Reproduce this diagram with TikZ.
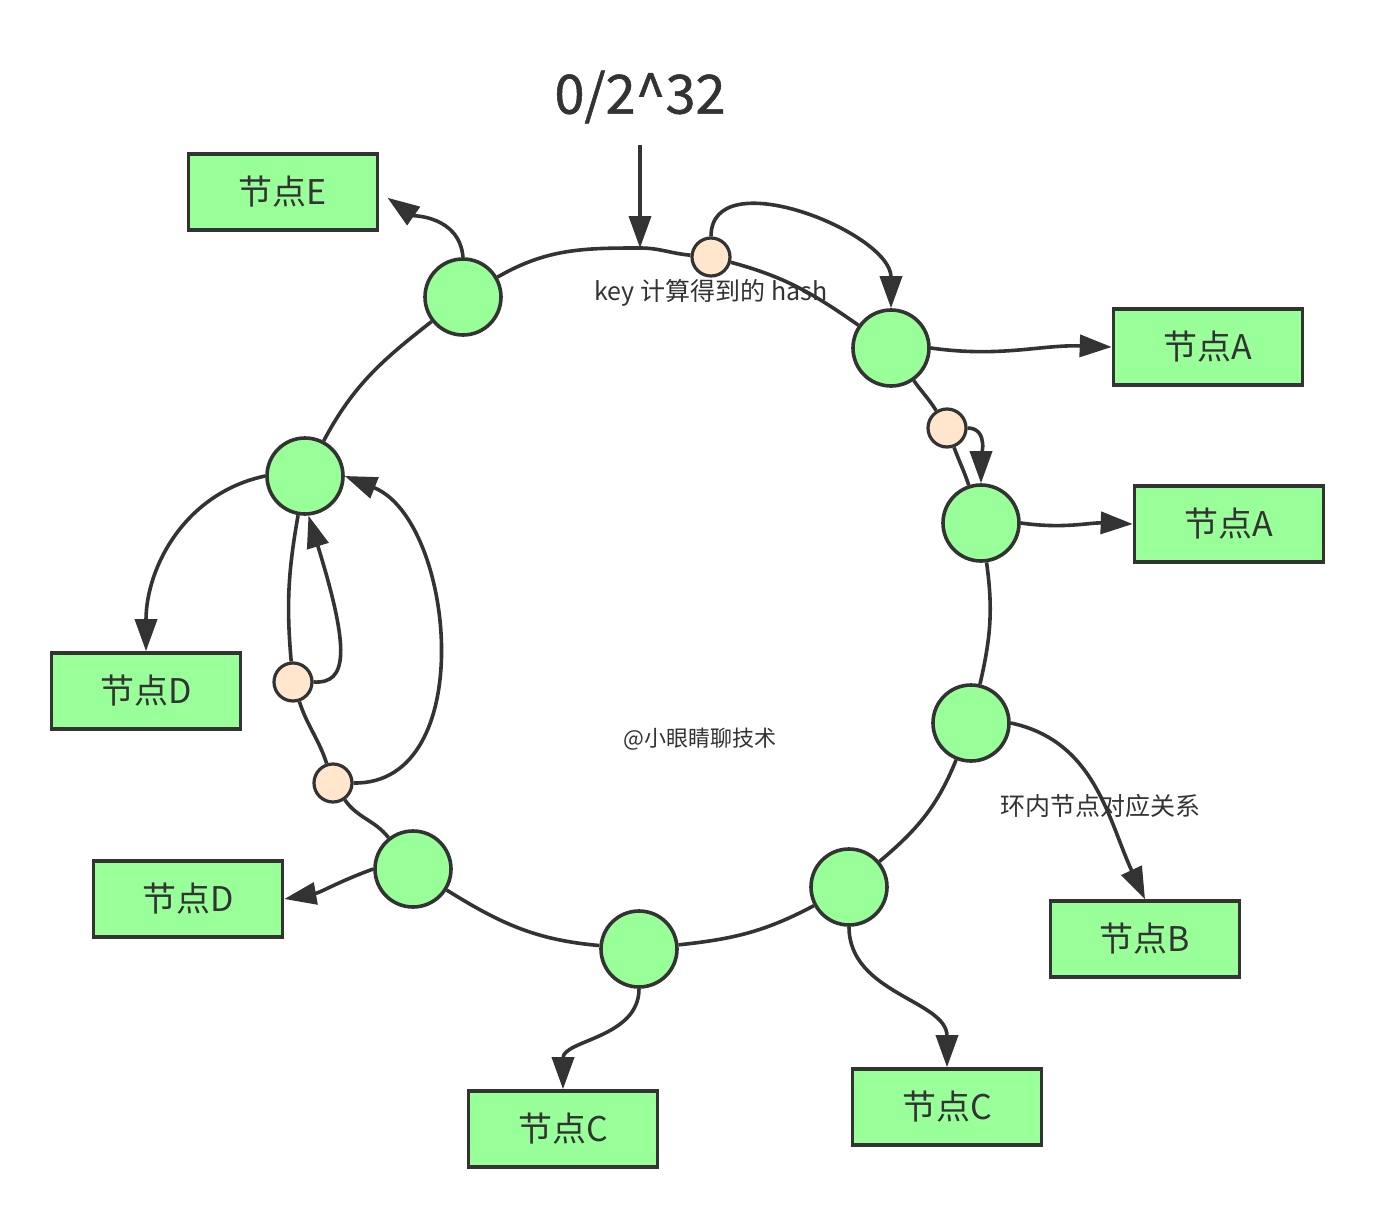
\documentclass[tikz,border=0pt]{standalone}
\usepackage{fontspec}
\setmainfont{Noto Sans CJK SC}
\newfontfamily\headfont[FakeBold=1]{Noto Sans CJK SC}
\usetikzlibrary{arrows.meta,backgrounds}
\definecolor{vdark}{HTML}{333333}
\definecolor{vgreen}{HTML}{99FF99}
\definecolor{vpeach}{HTML}{FFE6CC}
\tikzset{
  ring/.style={circle,draw=vdark,fill=vgreen,line width=1.8pt,minimum size=38pt,inner sep=0pt},
  hkey/.style={circle,draw=vdark,fill=vpeach,line width=1.6pt,minimum size=19pt,inner sep=0pt},
  box/.style={draw=vdark,fill=vgreen,line width=1.8pt,minimum width=94.5pt,minimum height=38pt,inner sep=0pt,font=\fontsize{17}{19}\selectfont,text=vdark},
  arr/.style={-{Triangle[length=16pt,width=11pt]},line width=1.8pt,draw=vdark},
  rline/.style={draw=vdark,line width=1.8pt},
  lbl/.style={font=\fontsize{12.5}{14}\selectfont,text=vdark},
}

\begin{document}
\begin{tikzpicture}[x=0.5pt,y=0.5pt]
  \useasboundingbox (0,0) rectangle (1376,-1220);
  % start of the ring
  \node[lbl,font=\headfont\fontsize{27}{30}\selectfont] (zero) at (640,-97) {0/2\textasciicircum32};
  \coordinate (src) at (640,-145);
  \coordinate (top) at (640,-248);
  % nodes on the ring
  \foreach \n/\x/\y in {e/463/297,a1/891/348,a2/981/523,b/971/723,c2/849/887,c1/639/949,d2/413/869,d1/305/476}
    { \node[ring] (\n) at (\x,-\y) {}; }
  \foreach \n/\x/\y in {k1/711/257,k2/947/428,k3/293/682,k4/333/783}
    { \node[hkey] (\n) at (\x,-\y) {}; }
  % real nodes
  \foreach \n/\x/\y/\t in {be/283/192/E,ba1/1208/347/A,ba2/1229/524/A,bd1/146/691/D,bd2/188/899/D,bb/1145/939/B,bc2/947/1107/C,bc1/563/1129/C}
    { \node[box] (\n) at (\x,-\y) {节点\t}; }
  % texts
  \node[lbl] (hash) at (711,-293) {key 计算得到的 hash};
  \node[lbl,font=\fontsize{11}{13}\selectfont] (mark) at (700,-739) {@小眼睛聊技术};
  \node[lbl] (rel) at (1100,-806) {环内节点对应关系};
  % the ring
  \begin{scope}[on background layer]
    \fill[white] (0,0) rectangle (1376,-1220);
    \draw[rline] (top) to[out=0,in=175] (k1) to[out=-15,in=145] (a1)
      to[out=-55,in=122] (k2) to[out=-70,in=108] (a2) to[out=-82,in=77] (b)
      to[out=-112,in=40] (c2) to[out=-152,in=6] (c1) to[out=175,in=-32] (d2)
      to[out=128,in=-55] (k4) to[out=108,in=-72] (k3) to[out=95,in=-100] (d1)
      to[out=62,in=-142] (e) to[out=30,in=180] (top);
  \end{scope}
  % arrows
  \draw[arr] (src) -- (top);
  \draw[arr] (k1.north) to[out=90,in=90] (a1.north);
  \draw[arr] (a1.east) to[out=-8,in=178] (ba1.west);
  \draw[arr] (k2.east) to[out=0,in=90] (a2.north);
  \draw[arr] (a2.east) to[out=-8,in=178] (ba2.west);
  \draw[arr] (b.east) to[out=-12,in=115] (bb.north);
  \draw[arr] (c2.south) to[out=-90,in=90] (bc2.north);
  \draw[arr] (c1.south) to[out=-90,in=90] (bc1.north);
  \draw[arr] (d2.west) to[out=200,in=10] (bd2.east);
  \draw[arr] (d1.west) to[out=192,in=90] (bd1.north);
  \draw[arr,shorten >=5pt] (e.north) to[out=95,in=-35] (be.east);
  \draw[arr] (k3.east) .. controls (348,-684) and (350,-650) .. (d1.-85);
  \draw[arr] (k4.east) .. controls (480,-785) and (455,-520) .. (d1.east);
\end{tikzpicture}
\end{document}
